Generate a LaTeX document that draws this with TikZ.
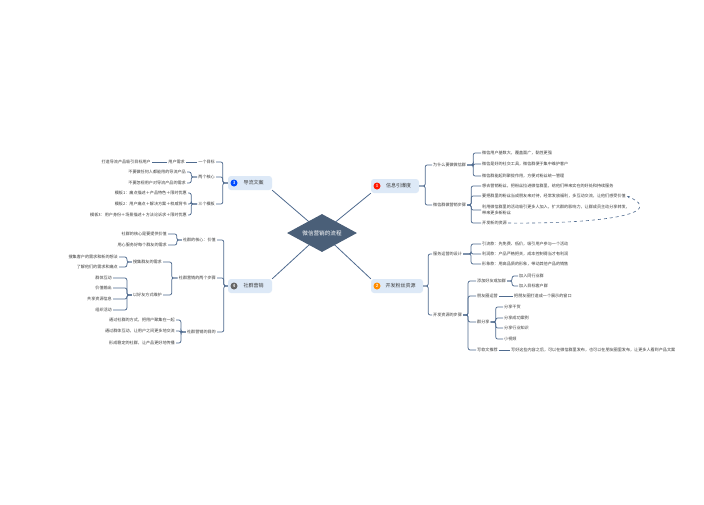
\documentclass[tikz,border=0pt]{standalone}
\usepackage{fontspec}
\newfontfamily\cjk{Noto Sans CJK SC}
\usetikzlibrary{arrows.meta, positioning, shapes.geometric}

\definecolor{lnc}{HTML}{4F6B8F}
\definecolor{hub}{HTML}{4A5F78}
\definecolor{bfill}{HTML}{DDE9F7}
\definecolor{txc}{HTML}{3A3A3A}

\begin{document}
\begin{tikzpicture}[x=1pt, y=-1pt,
  hubnode/.style={diamond, fill=hub, text=white, aspect=1.85, inner sep=0pt,
               minimum width=70pt, minimum height=38pt, font=\cjk\fontsize{5.6}{6}\selectfont},
  topic/.style={rectangle, rounded corners=3pt, fill=bfill, minimum height=14pt,
               inner xsep=3pt, font=\cjk\fontsize{5}{6}\selectfont, text=txc},
  numdot/.style={circle, inner sep=0pt, minimum size=7pt, text=white,
               font=\sffamily\bfseries\fontsize{4.5}{5}\selectfont},
  rt/.style={anchor=west, inner sep=1pt, text=txc, font=\cjk\fontsize{4.1}{6}\selectfont, align=left},
  lt/.style={anchor=east, inner sep=1pt, text=txc, font=\cjk\fontsize{4.1}{6}\selectfont, align=right},
  spoke/.style={draw=lnc, line width=0.8pt},
  br/.style={draw=lnc, line width=0.75pt, rounded corners=2pt},
  rel/.style={draw=lnc, dashed, line width=0.6pt, -{Stealth[length=3pt]}}
]
  \fill[white] (0,0) rectangle (704,504);
  \useasboundingbox (0,0) rectangle (704,504);

  % main topics
  \node[topic, minimum width=48pt] (xin) at (395,186) {\hspace{7pt}信息引爆度};
  \node[topic, minimum width=52pt] (kai) at (397,286) {\hspace{7pt}开发粉丝资源};
  \node[topic, minimum width=44pt] (dao) at (250,183) {\hspace{7pt}导流文案};
  \node[topic, minimum width=44pt] (she) at (250,286) {\hspace{7pt}社群营销};
  \node[numdot, fill=red!80!orange, right=2.5pt of xin.west, anchor=west] {1};
  \node[numdot, fill=orange!90!yellow, right=2.5pt of kai.west, anchor=west] {2};
  \node[numdot, fill=blue!70!cyan, right=2.5pt of dao.west, anchor=west] {3};
  \node[numdot, fill=black!60, right=2.5pt of she.west, anchor=west] {4};

  \coordinate (mid) at (322,233);
  \draw[spoke] (mid) -- (xin.south west);
  \draw[spoke] (mid) -- (kai.north west);
  \draw[spoke] (mid) -- (dao.south east);
  \draw[spoke] (mid) -- (she.north east);
  \node[hubnode] (hub) at (mid) {微信营销的流程};

  % 1 信息引爆度
  \node[rt] (why)  at (432,165) {为什么要做微信群};
  \node[rt] (step) at (432,205) {微信群做营销步骤};
  \node[rt] (why1) at (481,153) {微信用户基数大，覆盖面广，黏性更强};
  \node[rt] (why2) at (481,164) {微信是好的社交工具，微信群便于集中维护客户};
  \node[rt] (why3) at (481,176) {微信群能起到聚拢作用，方便对粉丝统一管理};
  \node[rt] (st1)  at (481,186) {想去营销粉丝，把粉丝拉进微信群里，给他们带来实在的好处和持续服务};
  \node[rt] (st2)  at (481,196) {要把群里的粉丝当成朋友来对待，经常发放福利，多互动交流，让他们感受价值};
  \node[rt] (st3)  at (481,210) {利用微信群里的活动吸引更多人加入，扩大群的影响力，让群成员主动分享转发，\\带来更多新粉丝};
  \node[rt] (st4)  at (481,223) {开发新的资源};
  \draw[br] (xin.east) -- ++(6,0) |- (why.west);
  \draw[br] (xin.east) -- ++(6,0) |- (step.west);
  \foreach \c in {why1,why2,why3} \draw[br] (why.east) -- ++(6,0) |- (\c.west);
  \foreach \c in {st1,st2,st3,st4} \draw[br] (step.east) -- ++(4,0) |- (\c.west);
  \draw[rel] (st4.east) .. controls (600,224) and (668,214) .. (st2.east);

  % 2 开发粉丝资源
  \node[rt] (fw)  at (432,254) {服务运营的设计};
  \node[rt] (kf)  at (432,315) {开发资源的步骤};
  \node[rt] (fw1) at (481,244) {引流款：先免费、低价，吸引用户参与一个活动};
  \node[rt] (fw2) at (481,254) {利润款：产品严格把关，成本控制得当才有利润};
  \node[rt] (fw3) at (481,264) {形象款：用高品质的形象，带动其他产品的销售};
  \node[rt] (kf1) at (476,281) {添加好友或加群};
  \node[rt] (kf2) at (476,296) {朋友圈运营};
  \node[rt] (kf3) at (476,322) {群分享};
  \node[rt] (kf4) at (476,350) {写软文推荐};
  \node[rt] (ja)  at (518,276) {加入同行业群};
  \node[rt] (jb)  at (518,286) {加入目标客户群};
  \node[rt] (pq)  at (513,296) {把朋友圈打造成一个展示的窗口};
  \node[rt] (fx1) at (503,307) {分享干货};
  \node[rt] (fx2) at (503,318) {分享成功案例};
  \node[rt] (fx3) at (503,328) {分享行业知识};
  \node[rt] (fx4) at (503,339) {小视频};
  \node[rt] (rw)  at (510,350) {写好这些内容之后，可以在微信群里发布，也可以在朋友圈里发布，让更多人看到产品文案};
  \draw[br] (kai.east) -- ++(5,0) |- (fw.west);
  \draw[br] (kai.east) -- ++(5,0) |- (kf.west);
  \foreach \c in {fw1,fw2,fw3} \draw[br] (fw.east) -- ++(8,0) |- (\c.west);
  \foreach \c in {kf1,kf2,kf3,kf4} \draw[br] (kf.east) -- ++(5,0) |- (\c.west);
  \foreach \c in {ja,jb} \draw[br] (kf1.east) -- ++(5,0) |- (\c.west);
  \draw[br] (kf2) -- (pq);
  \foreach \c in {fx1,fx2,fx3,fx4} \draw[br] (kf3.east) -- ++(5,0) |- (\c.west);
  \draw[br] (kf4) -- (rw);

  % 3 导流文案
  \node[lt] (mb)  at (216,162) {一个目标};
  \node[lt] (hx)  at (216,177) {两个核心};
  \node[lt] (mo)  at (216,204) {三个模板};
  \node[lt] (xq)  at (186,162) {用户需求};
  \node[lt] (xq1) at (152,162) {打造导流产品吸引目标用户};
  \node[lt] (hx1) at (187,172) {不要做任何人都能用的导流产品};
  \node[lt] (hx2) at (187,183) {不要忽视用户对导流产品的需求};
  \node[lt] (mo1) at (188,193) {模板1：痛点描述＋产品特色＋限时优惠};
  \node[lt] (mo2) at (188,204) {模板2：用户痛点＋解决方案＋权威背书};
  \node[lt] (mo3) at (188,215) {模板3：用户身份＋场景描述＋方法论诉求＋限时优惠};
  \foreach \c in {mb,hx,mo} \draw[br] (dao.west) -- ++(-5,0) |- (\c.east);
  \draw[br] (mb) -- (xq);
  \draw[br] (xq) -- (xq1);
  \foreach \c in {hx1,hx2} \draw[br] (hx.west) -- ++(-6,0) |- (\c.east);
  \foreach \c in {mo1,mo2,mo3} \draw[br] (mo.west) -- ++(-6,0) |- (\c.east);

  % 4 社群营销
  \node[lt] (hxj) at (217,240) {社群的核心：价值};
  \node[lt] (bz)  at (217,278) {社群营销的两个步骤};
  \node[lt] (md)  at (217,332) {社群营销的目的};
  \node[lt] (hj1) at (168,234) {社群的核心是要提供价值};
  \node[lt] (hj2) at (168,245) {用心服务好每个群友的需求};
  \node[lt] (sj)  at (163,262) {搜集群友的需求};
  \node[lt] (wh)  at (163,295) {以好友方式维护};
  \node[lt] (sj1) at (119,257) {搜集客户的需求和新的想法};
  \node[lt] (sj2) at (119,267) {了解他们的需求和痛点};
  \node[lt] (wh1) at (113,278) {群体互动};
  \node[lt] (wh2) at (113,288) {价值输出};
  \node[lt] (wh3) at (113,299) {共享资源信息};
  \node[lt] (wh4) at (113,310) {组织活动};
  \node[lt] (md1) at (176,320) {通过社群的方式，把用户聚集在一起};
  \node[lt] (md2) at (176,331) {通过群体互动，让用户之间更多地交流};
  \node[lt] (md3) at (176,343) {形成稳定的社群，让产品更好地传播};
  \foreach \c in {hxj,bz,md} \draw[br] (she.west) -- ++(-4,0) |- (\c.east);
  \foreach \c in {hj1,hj2} \draw[br] (hxj.west) -- ++(-5,0) |- (\c.east);
  \foreach \c in {sj,wh} \draw[br] (bz.west) -- ++(-6,0) |- (\c.east);
  \foreach \c in {sj1,sj2} \draw[br] (sj.west) -- ++(-5,0) |- (\c.east);
  \foreach \c in {wh1,wh2,wh3,wh4} \draw[br] (wh.west) -- ++(-5,0) |- (\c.east);
  \foreach \c in {md1,md2,md3} \draw[br] (md.west) -- ++(-5,0) |- (\c.east);
\end{tikzpicture}
\end{document}
